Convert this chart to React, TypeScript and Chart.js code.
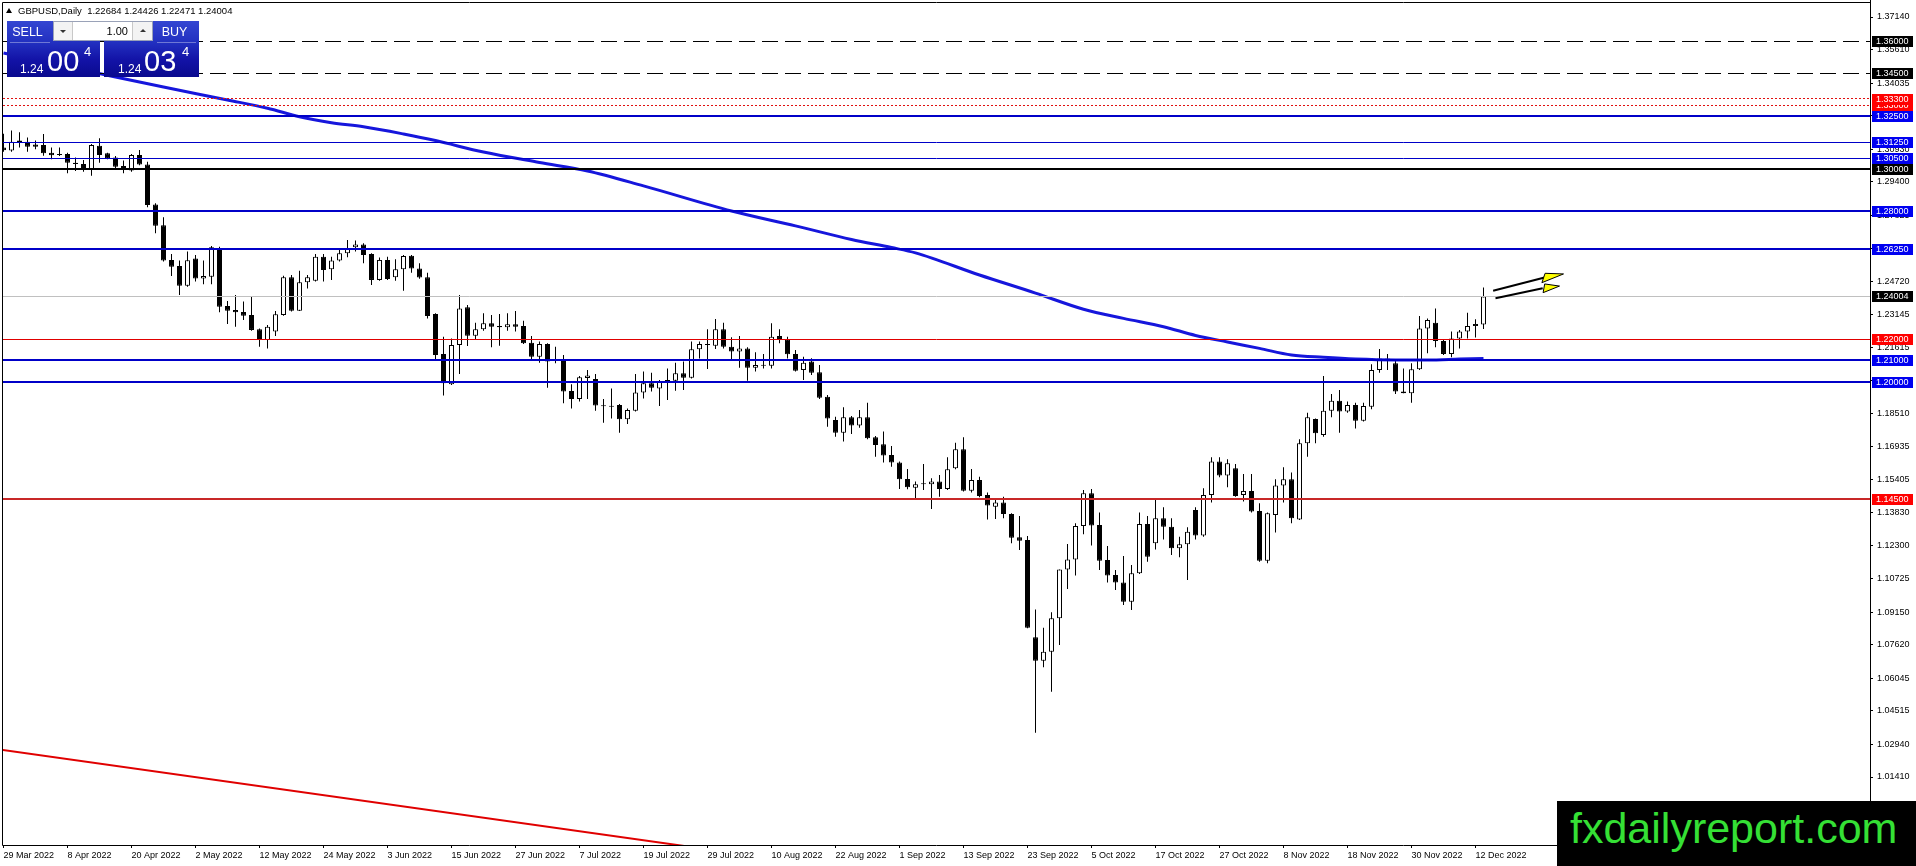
import React, { useEffect, useRef } from "react";
import { Chart, registerables } from "chart.js";

Chart.register(...registerables);

const FONT = "'Liberation Sans', Arial, sans-serif";

// ---------- DATA ----------
const TITLE = "GBPUSD,Daily";
const LAST_OHLC = [1.22684, 1.24426, 1.22471, 1.24004];

const X_TICK_BARS = [0, 8, 16, 24, 32, 40, 48, 56, 64, 72, 80, 88, 96, 104, 112, 120, 128, 136, 144, 152, 160, 168, 176, 184];
const X_TICK_LABELS = [
  "29 Mar 2022", "8 Apr 2022", "20 Apr 2022", "2 May 2022", "12 May 2022", "24 May 2022",
  "3 Jun 2022", "15 Jun 2022", "27 Jun 2022", "7 Jul 2022", "19 Jul 2022", "29 Jul 2022",
  "10 Aug 2022", "22 Aug 2022", "1 Sep 2022", "13 Sep 2022", "23 Sep 2022", "5 Oct 2022",
  "17 Oct 2022", "27 Oct 2022", "8 Nov 2022", "18 Nov 2022", "30 Nov 2022", "12 Dec 2022",
];

const Y_TICKS = [
  1.3714, 1.3561, 1.34035, 1.32505, 1.3093, 1.294, 1.27825, 1.2625, 1.2472, 1.23145, 1.21615,
  1.2004, 1.1851, 1.16935, 1.15405, 1.1383, 1.123, 1.10725, 1.0915, 1.0762, 1.06045, 1.04515,
  1.0294, 1.0141,
];

// [open, high, low, close] per daily bar, 29 Mar 2022 .. 13 Dec 2022
const OHLC: number[][] = [
  [1.3100, 1.3165, 1.3080, 1.3088], [1.3086, 1.3180, 1.3081, 1.3128], [1.3133, 1.3172, 1.3100, 1.3125],
  [1.3128, 1.3148, 1.3081, 1.3104], [1.3115, 1.3133, 1.3092, 1.3104], [1.3112, 1.3164, 1.3062, 1.3073],
  [1.3076, 1.3100, 1.3045, 1.3064], [1.3070, 1.3100, 1.3061, 1.3065], [1.3070, 1.3076, 1.2979, 1.3029],
  [1.3029, 1.3054, 1.2990, 1.3023], [1.3023, 1.3042, 1.2987, 1.2995], [1.2995, 1.3117, 1.2968, 1.3112],
  [1.3109, 1.3144, 1.3029, 1.3065], [1.3073, 1.3076, 1.3045, 1.3050], [1.3054, 1.3061, 1.3003, 1.3010],
  [1.3014, 1.3039, 1.2979, 1.2995], [1.2992, 1.3070, 1.2987, 1.3065], [1.3065, 1.3089, 1.3017, 1.3021],
  [1.3021, 1.3034, 1.2819, 1.2830], [1.2833, 1.2838, 1.2697, 1.2733], [1.2735, 1.2772, 1.2565, 1.2569],
  [1.2572, 1.2600, 1.2496, 1.2540], [1.2543, 1.2569, 1.2407, 1.2451], [1.2451, 1.2611, 1.2446, 1.2570],
  [1.2579, 1.2595, 1.2470, 1.2485], [1.2485, 1.2569, 1.2457, 1.2496], [1.2493, 1.2637, 1.2457, 1.2631],
  [1.2626, 1.2634, 1.2326, 1.2352], [1.2355, 1.2379, 1.2271, 1.2333], [1.2337, 1.2407, 1.2258, 1.2326],
  [1.2327, 1.2376, 1.2290, 1.2310], [1.2313, 1.2399, 1.2239, 1.2243], [1.2246, 1.2250, 1.2164, 1.2196],
  [1.2196, 1.2266, 1.2156, 1.2258], [1.2235, 1.2332, 1.2214, 1.2316], [1.2313, 1.2498, 1.2310, 1.2490],
  [1.2490, 1.2501, 1.2329, 1.2333], [1.2333, 1.2521, 1.2332, 1.2467], [1.2467, 1.2501, 1.2438, 1.2490],
  [1.2474, 1.2600, 1.2470, 1.2587], [1.2587, 1.2600, 1.2470, 1.2525], [1.2528, 1.2587, 1.2478, 1.2569],
  [1.2569, 1.2626, 1.2564, 1.2603], [1.2603, 1.2666, 1.2584, 1.2626], [1.2631, 1.2663, 1.2611, 1.2645],
  [1.2645, 1.2650, 1.2556, 1.2595], [1.2600, 1.2603, 1.2454, 1.2478], [1.2478, 1.2583, 1.2474, 1.2572],
  [1.2572, 1.2587, 1.2478, 1.2482], [1.2490, 1.2575, 1.2474, 1.2528], [1.2528, 1.2595, 1.2427, 1.2590],
  [1.2592, 1.2595, 1.2512, 1.2532], [1.2532, 1.2556, 1.2484, 1.2489], [1.2490, 1.2512, 1.2297, 1.2308],
  [1.2318, 1.2321, 1.2105, 1.2125], [1.2130, 1.2211, 1.1935, 1.1992], [1.1987, 1.2203, 1.1984, 1.2172],
  [1.2172, 1.2407, 1.2036, 1.2344], [1.2349, 1.2360, 1.2167, 1.2216], [1.2216, 1.2277, 1.2200, 1.2246],
  [1.2246, 1.2321, 1.2239, 1.2274], [1.2274, 1.2313, 1.2161, 1.2258], [1.2261, 1.2318, 1.2169, 1.2255],
  [1.2255, 1.2321, 1.2239, 1.2269], [1.2269, 1.2332, 1.2235, 1.2258], [1.2261, 1.2286, 1.2177, 1.2180],
  [1.2183, 1.2214, 1.2105, 1.2117], [1.2117, 1.2188, 1.2089, 1.2177], [1.2177, 1.2180, 1.1971, 1.2094],
  [1.2100, 1.2164, 1.2086, 1.2098], [1.2101, 1.2125, 1.1898, 1.1953], [1.1956, 1.1987, 1.1874, 1.1918],
  [1.1918, 1.2026, 1.1906, 1.2020], [1.2017, 1.2054, 1.1918, 1.2029], [1.2012, 1.2036, 1.1863, 1.1887],
  [1.1888, 1.1918, 1.1807, 1.1884], [1.1885, 1.1968, 1.1827, 1.1882], [1.1890, 1.1895, 1.1760, 1.1823],
  [1.1823, 1.1874, 1.1801, 1.1866], [1.1863, 1.2036, 1.1859, 1.1949], [1.1949, 1.2047, 1.1921, 1.1992],
  [1.1992, 1.2042, 1.1953, 1.1971], [1.1968, 1.2007, 1.1885, 1.2003], [1.2003, 1.2062, 1.1913, 1.2006],
  [1.2004, 1.2089, 1.1957, 1.2039], [1.2039, 1.2094, 1.1960, 1.2018], [1.2018, 1.2188, 1.2015, 1.2152],
  [1.2152, 1.2188, 1.2109, 1.2177], [1.2177, 1.2246, 1.2059, 1.2172], [1.2169, 1.2294, 1.2153, 1.2246],
  [1.2246, 1.2277, 1.2156, 1.2164], [1.2164, 1.2208, 1.2105, 1.2141], [1.2141, 1.2214, 1.2065, 1.2156],
  [1.2156, 1.2161, 1.2004, 1.2065], [1.2065, 1.2138, 1.2047, 1.2078], [1.2078, 1.2130, 1.2062, 1.2075],
  [1.2075, 1.2274, 1.2062, 1.2211], [1.2214, 1.2246, 1.2180, 1.2200], [1.2199, 1.2211, 1.2109, 1.2128],
  [1.2130, 1.2148, 1.2047, 1.2051], [1.2055, 1.2117, 1.2008, 1.2089], [1.2094, 1.2110, 1.2031, 1.2042],
  [1.2044, 1.2078, 1.1918, 1.1924], [1.1929, 1.1937, 1.1788, 1.1827], [1.1819, 1.1835, 1.1741, 1.1760],
  [1.1760, 1.1879, 1.1718, 1.1832], [1.1832, 1.1838, 1.1754, 1.1793], [1.1793, 1.1866, 1.1783, 1.1832],
  [1.1832, 1.1901, 1.1729, 1.1733], [1.1738, 1.1744, 1.1647, 1.1702], [1.1705, 1.1765, 1.1619, 1.1652],
  [1.1655, 1.1697, 1.1600, 1.1619], [1.1620, 1.1624, 1.1495, 1.1541], [1.1542, 1.1589, 1.1494, 1.1503],
  [1.1501, 1.1530, 1.1447, 1.1517], [1.1517, 1.1613, 1.1490, 1.1519], [1.1517, 1.1545, 1.1401, 1.1530],
  [1.1530, 1.1561, 1.1459, 1.1495], [1.1495, 1.1644, 1.1490, 1.1588], [1.1592, 1.1713, 1.1588, 1.1682],
  [1.1682, 1.1738, 1.1483, 1.1487], [1.1487, 1.1589, 1.1478, 1.1537], [1.1537, 1.1553, 1.1456, 1.1462],
  [1.1467, 1.1479, 1.1352, 1.1417], [1.1412, 1.1443, 1.1354, 1.1432], [1.1432, 1.1459, 1.1357, 1.1378],
  [1.1378, 1.1381, 1.1240, 1.1266], [1.1268, 1.1368, 1.1208, 1.1252], [1.1255, 1.1274, 1.0840, 1.0843],
  [1.0798, 1.0929, 1.0349, 1.0688], [1.0688, 1.0843, 1.0657, 1.0730], [1.0730, 1.0915, 1.0542, 1.0887],
  [1.0887, 1.1117, 1.0762, 1.1117], [1.1117, 1.1236, 1.1025, 1.1164], [1.1164, 1.1334, 1.1088, 1.1321],
  [1.1321, 1.1490, 1.1282, 1.1475], [1.1475, 1.1495, 1.1229, 1.1323], [1.1326, 1.1385, 1.1114, 1.1158],
  [1.1161, 1.1227, 1.1055, 1.1088], [1.1091, 1.1114, 1.1020, 1.1055], [1.1056, 1.1180, 1.0950, 1.0965],
  [1.0965, 1.1138, 1.0926, 1.1099], [1.1099, 1.1384, 1.1095, 1.1331], [1.1331, 1.1368, 1.1153, 1.1177],
  [1.1240, 1.1443, 1.1211, 1.1357], [1.1357, 1.1409, 1.1258, 1.1318], [1.1318, 1.1357, 1.1185, 1.1216],
  [1.1216, 1.1271, 1.1174, 1.1235], [1.1235, 1.1315, 1.1067, 1.1294], [1.1396, 1.1409, 1.1258, 1.1276],
  [1.1276, 1.1498, 1.1271, 1.1467], [1.1467, 1.1644, 1.1431, 1.1624], [1.1624, 1.1644, 1.1550, 1.1558],
  [1.1558, 1.1635, 1.1503, 1.1616], [1.1592, 1.1613, 1.1459, 1.1462], [1.1467, 1.1566, 1.1436, 1.1486],
  [1.1486, 1.1566, 1.1384, 1.1389], [1.1392, 1.1428, 1.1153, 1.1158], [1.1158, 1.1384, 1.1146, 1.1381],
  [1.1373, 1.1541, 1.1291, 1.1511], [1.1511, 1.1597, 1.1431, 1.1541], [1.1541, 1.1572, 1.1334, 1.1357],
  [1.1352, 1.1729, 1.1349, 1.1710], [1.1710, 1.1854, 1.1647, 1.1832], [1.1824, 1.1827, 1.1710, 1.1757],
  [1.1749, 1.2026, 1.1741, 1.1863], [1.1863, 1.1942, 1.1832, 1.1910], [1.1910, 1.1960, 1.1760, 1.1859],
  [1.1859, 1.1906, 1.1854, 1.1890], [1.1890, 1.1901, 1.1780, 1.1816], [1.1816, 1.1901, 1.1812, 1.1885],
  [1.1882, 1.2081, 1.1870, 1.2055], [1.2055, 1.2153, 1.2042, 1.2109], [1.2109, 1.2130, 1.2055, 1.2102],
  [1.2086, 1.2102, 1.1942, 1.1953], [1.1953, 1.2062, 1.1945, 1.1945], [1.1945, 1.2086, 1.1901, 1.2058],
  [1.2058, 1.2308, 1.2055, 1.2250], [1.2250, 1.2297, 1.2133, 1.2290], [1.2277, 1.2344, 1.2161, 1.2191],
  [1.2191, 1.2196, 1.2125, 1.2130], [1.2130, 1.2235, 1.2114, 1.2203], [1.2203, 1.2243, 1.2156, 1.2235],
  [1.2235, 1.2324, 1.2203, 1.2261], [1.2261, 1.2293, 1.2207, 1.2271], [1.22684, 1.24426, 1.22471, 1.24004],
];

// moving average, sampled at bar indexes
const MA_BARS = [0, 8, 14, 20, 28, 33, 37, 41, 45, 50, 54, 60, 67, 73, 80, 91, 99, 106, 111, 114, 122, 129, 135, 140, 145, 149, 153, 157, 161, 165, 169, 174, 178, 182, 185];
const MA_VALUES = [1.3545, 1.3480, 1.3432, 1.3385, 1.3324, 1.3285, 1.3245, 1.3217, 1.3198, 1.3164, 1.3133, 1.3079, 1.3030, 1.2990, 1.2920, 1.2802, 1.2732, 1.2668, 1.2630, 1.2605, 1.2501, 1.2416, 1.2340, 1.2297, 1.2258, 1.2217, 1.2186, 1.2156, 1.2125, 1.2114, 1.2106, 1.2102, 1.2102, 1.2106, 1.2109];

// red trend line (bar, price)
const TREND_BARS = [-1, 90];
const TREND_VALUES = [1.02733, 0.97906];

// horizontal levels
const LEVEL_VALUES = [1.36, 1.345, 1.33, 1.333, 1.325, 1.3125, 1.305, 1.30, 1.28, 1.2625, 1.24004, 1.22, 1.21, 1.20, 1.145];
const LEVEL_KINDS = ["dashK", "dashK", "dotR", "dotR", "blueB", "blueT", "blueT", "blackB", "blueB", "blueB", "bid", "redT", "blueB", "blueB", "redB"];

// arrows: shaft [bar0, price0, bar1, price1], head triangle [bar, price] x3
const ARROW_SHAFTS = [[186.2, 1.2427, 193.0, 1.2493], [186.5, 1.2392, 192.4, 1.2439]];
const ARROW_HEADS = [
  [192.7, 1.2509, 195.0, 1.2506, 192.3, 1.2465],
  [192.65, 1.2459, 194.5, 1.2449, 192.45, 1.2418],
];

// ---------- STYLES ----------
const KIND_STYLE: Record<string, { color: string; width: number; dash: number[]; box: string }> = {
  dashK: { color: "#000000", width: 1, dash: [16, 7], box: "#000000" },
  dotR: { color: "#e01010", width: 1, dash: [2, 2], box: "#ff0000" },
  blueB: { color: "#0000c8", width: 2, dash: [], box: "#0000f0" },
  blueT: { color: "#0000c8", width: 1, dash: [], box: "#0000f0" },
  blackB: { color: "#000000", width: 2, dash: [], box: "#000000" },
  bid: { color: "#c0c0c0", width: 1, dash: [], box: "#000000" },
  redT: { color: "#e00000", width: 1, dash: [], box: "#ff0000" },
  redB: { color: "#c82828", width: 2, dash: [], box: "#ff0000" },
};

const X_MIN = -0.0625;
const X_MAX = 233.3125;
const Y_MIN = 0.982132;
const Y_MAX = 1.377982;

const overlayPlugin = {
  id: "mt4overlay",
  afterDatasetsDraw(chart: any) {
    const { ctx, chartArea: a, scales } = chart;
    const xs = scales.x;
    const ys = scales.y;
    ctx.save();
    ctx.beginPath();
    ctx.rect(a.left, a.top, a.right - a.left, a.bottom - a.top);
    ctx.clip();
    LEVEL_VALUES.forEach((v, i) => {
      const s = KIND_STYLE[LEVEL_KINDS[i]];
      const py = ys.getPixelForValue(v);
      const yy = s.width % 2 === 1 ? Math.round(py - 0.5) + 0.5 : Math.round(py);
      ctx.strokeStyle = s.color;
      ctx.lineWidth = s.width;
      ctx.setLineDash(s.dash);
      ctx.beginPath();
      ctx.moveTo(a.left, yy);
      ctx.lineTo(a.right, yy);
      ctx.stroke();
    });
    ctx.setLineDash([]);
    ARROW_SHAFTS.forEach((sh) => {
      ctx.strokeStyle = "#000";
      ctx.lineWidth = 2;
      ctx.beginPath();
      ctx.moveTo(xs.getPixelForValue(sh[0]), ys.getPixelForValue(sh[1]));
      ctx.lineTo(xs.getPixelForValue(sh[2]), ys.getPixelForValue(sh[3]));
      ctx.stroke();
    });
    ARROW_HEADS.forEach((h) => {
      ctx.beginPath();
      ctx.moveTo(xs.getPixelForValue(h[0]), ys.getPixelForValue(h[1]));
      ctx.lineTo(xs.getPixelForValue(h[2]), ys.getPixelForValue(h[3]));
      ctx.lineTo(xs.getPixelForValue(h[4]), ys.getPixelForValue(h[5]));
      ctx.closePath();
      ctx.fillStyle = "#ffff00";
      ctx.fill();
      ctx.strokeStyle = "#000";
      ctx.lineWidth = 1;
      ctx.stroke();
    });
    ctx.restore();
  },
  afterDraw(chart: any) {
    const { ctx, chartArea: a, scales, height } = chart;
    const ys = scales.y;
    ctx.save();
    // frame
    ctx.strokeStyle = "#000";
    ctx.lineWidth = 1;
    ctx.beginPath();
    ctx.moveTo(a.left - 0.5, a.top - 0.5);
    ctx.lineTo(a.right + 0.5, a.top - 0.5);
    ctx.moveTo(a.left - 0.5, a.top - 0.5);
    ctx.lineTo(a.left - 0.5, a.bottom + 0.5);
    ctx.moveTo(a.left - 0.5, a.bottom + 0.5);
    ctx.lineTo(a.right + 0.5, a.bottom + 0.5);
    ctx.moveTo(a.right + 0.5, 0);
    ctx.lineTo(a.right + 0.5, height);
    ctx.stroke();
    // price labels
    ctx.font = `9px ${FONT}`;
    ctx.textBaseline = "middle";
    ctx.textAlign = "left";
    LEVEL_VALUES.forEach((v, i) => {
      const s = KIND_STYLE[LEVEL_KINDS[i]];
      const py = Math.round(ys.getPixelForValue(v));
      ctx.fillStyle = s.box;
      ctx.fillRect(a.right + 2, py - 5, 41, 11);
      ctx.fillStyle = "#ffffff";
      ctx.fillText(v.toFixed(5), a.right + 6, py + 0.5);
    });
    ctx.restore();
  },
};

const panelBg = "linear-gradient(180deg, #3446d2 0%, #2230c0 38%, #1212a6 70%, #0a0a8e 100%)";

export default function App() {
  const canvasRef = useRef<HTMLCanvasElement | null>(null);

  useEffect(() => {
    const canvas = canvasRef.current;
    if (!canvas) return;
    const wicks = OHLC.map((c, i) => ({ x: i, y: [c[2], c[1]] }));
    const bodies = OHLC.map((c, i) => ({ x: i, y: [c[0], c[3]] }));
    const bodyColors = OHLC.map((c) => (c[3] >= c[0] ? "#ffffff" : "#000000"));
    const ma = MA_BARS.map((b, i) => ({ x: b, y: MA_VALUES[i] }));
    const trend = TREND_BARS.map((b, i) => ({ x: b, y: TREND_VALUES[i] }));

    const chart = new Chart(canvas, {
      type: "bar",
      data: {
        datasets: [
          {
            type: "bar",
            data: wicks as any,
            backgroundColor: "#000000",
            borderWidth: 0,
            barThickness: 1,
            grouped: false,
            inflateAmount: 0,
            order: 4,
          } as any,
          {
            type: "bar",
            data: bodies as any,
            backgroundColor: bodyColors,
            borderColor: "#000000",
            borderWidth: 1,
            borderSkipped: false,
            barThickness: 5,
            grouped: false,
            minBarLength: 1,
            inflateAmount: 0,
            order: 3,
          } as any,
          {
            type: "line",
            data: ma as any,
            borderColor: "#1616dc",
            borderWidth: 3,
            pointRadius: 0,
            cubicInterpolationMode: "monotone",
            order: 2,
          } as any,
          {
            type: "line",
            data: trend as any,
            borderColor: "#e00000",
            borderWidth: 2,
            pointRadius: 0,
            clip: 0,
            order: 1,
          } as any,
        ],
      },
      options: {
        animation: false,
        responsive: false,
        maintainAspectRatio: false,
        events: [],
        layout: { padding: { left: 3, top: 3, right: 0, bottom: 0 } },
        plugins: {
          legend: { display: false },
          tooltip: { enabled: false },
          title: { display: false },
        },
        scales: {
          x: {
            type: "linear",
            min: X_MIN,
            max: X_MAX,
            offset: false,
            grid: { display: true, drawOnChartArea: false, drawTicks: true, tickLength: 3, color: "#000", offset: false },
            border: { display: false },
            ticks: {
              autoSkip: false,
              maxRotation: 0,
              minRotation: 0,
              align: "start",
              padding: 2,
              color: "#000",
              font: { size: 9, family: FONT },
              callback: (_v: any, index: number) => X_TICK_LABELS[index] ?? "",
            },
            afterBuildTicks: (s: any) => {
              s.ticks = X_TICK_BARS.map((v) => ({ value: v }));
            },
            afterFit: (s: any) => {
              s.height = 21;
              s.paddingLeft = 0;
              s.paddingRight = 0;
            },
          } as any,
          y: {
            type: "linear",
            position: "right",
            min: Y_MIN,
            max: Y_MAX,
            grid: { display: true, drawOnChartArea: false, drawTicks: true, tickLength: 3, color: "#000" },
            border: { display: false },
            ticks: {
              autoSkip: false,
              padding: 4,
              color: "#000",
              font: { size: 9, family: FONT },
              callback: (v: any) => Number(v).toFixed(5),
            },
            afterBuildTicks: (s: any) => {
              s.ticks = Y_TICKS.map((v) => ({ value: v }));
            },
            afterFit: (s: any) => {
              s.width = 46;
              s.paddingTop = 0;
              s.paddingBottom = 0;
            },
          } as any,
        },
      },
      plugins: [overlayPlugin as any],
    });
    return () => chart.destroy();
  }, []);

  const white = "#ffffff";
  return (
    <div style={{ position: "relative", width: 1916, height: 866, overflow: "hidden", background: "#fff", fontFamily: FONT }}>
      <style>{"html,body{margin:0;padding:0;background:#fff;}"}</style>
      <canvas ref={canvasRef} width={1916} height={866} style={{ position: "absolute", left: 0, top: 0, width: 1916, height: 866 }} />

      {/* header */}
      <div style={{ position: "absolute", left: 6, top: 8, width: 0, height: 0, borderLeft: "3px solid transparent", borderRight: "3px solid transparent", borderBottom: "5px solid #000" }} />
      <div style={{ position: "absolute", left: 18, top: 5, fontSize: 9.5, lineHeight: "11px", color: "#000", whiteSpace: "pre" }}>
        {`${TITLE}  ${LAST_OHLC.map((v) => v.toFixed(5)).join(" ")}`}
      </div>

      {/* one click trading panel */}
      <div style={{ position: "absolute", left: 7, top: 21, width: 93, height: 56, background: panelBg }} />
      <div style={{ position: "absolute", left: 104, top: 21, width: 95, height: 56, background: panelBg }} />
      <div style={{ position: "absolute", left: 7, top: 25, width: 41, fontSize: 12.5, lineHeight: "14px", color: white, textAlign: "center" }}>SELL</div>
      <div style={{ position: "absolute", left: 154, top: 25, width: 41, fontSize: 12.5, lineHeight: "14px", color: white, textAlign: "center" }}>BUY</div>
      <div style={{ position: "absolute", left: 10, top: 42, width: 40, height: 1, background: "rgba(255,255,255,0.35)" }} />
      <div style={{ position: "absolute", left: 157, top: 42, width: 39, height: 1, background: "rgba(255,255,255,0.35)" }} />
      <div style={{ position: "absolute", left: 53, top: 21, width: 98, height: 18, background: "#fff", border: "1px solid #9aa2b8" }}>
        <div style={{ position: "absolute", left: 0, top: 0, width: 18, height: 18, background: "#f3f3f3", borderRight: "1px solid #c8c8c8" }}>
          <div style={{ position: "absolute", left: 6, top: 8, width: 0, height: 0, borderLeft: "3px solid transparent", borderRight: "3px solid transparent", borderTop: "3px solid #333" }} />
        </div>
        <div style={{ position: "absolute", right: 24, top: 2, fontSize: 11, lineHeight: "14px", color: "#000" }}>1.00</div>
        <div style={{ position: "absolute", right: 0, top: 0, width: 19, height: 18, background: "#f3f3f3", borderLeft: "1px solid #c8c8c8" }}>
          <div style={{ position: "absolute", left: 7, top: 7, width: 0, height: 0, borderLeft: "3px solid transparent", borderRight: "3px solid transparent", borderBottom: "3px solid #333" }} />
        </div>
      </div>
      {/* sell price */}
      <div style={{ position: "absolute", left: 20, top: 63, fontSize: 12, lineHeight: "12px", color: white }}>1.24</div>
      <div style={{ position: "absolute", left: 47, top: 46.5, fontSize: 29, lineHeight: "29px", color: white }}>00</div>
      <div style={{ position: "absolute", left: 84, top: 45, fontSize: 13, lineHeight: "13px", color: white }}>4</div>
      {/* buy price */}
      <div style={{ position: "absolute", left: 118, top: 63, fontSize: 12, lineHeight: "12px", color: white }}>1.24</div>
      <div style={{ position: "absolute", left: 144, top: 46.5, fontSize: 29, lineHeight: "29px", color: white }}>03</div>
      <div style={{ position: "absolute", left: 182, top: 45, fontSize: 13, lineHeight: "13px", color: white }}>4</div>

      {/* watermark */}
      <div style={{ position: "absolute", left: 1557, top: 801, width: 359, height: 65, background: "#000" }} />
      <div style={{ position: "absolute", left: 1570, top: 807, fontSize: 43, lineHeight: "43px", color: "#35e035", whiteSpace: "nowrap" }}>
        fxdailyreport.com
      </div>
    </div>
  );
}
